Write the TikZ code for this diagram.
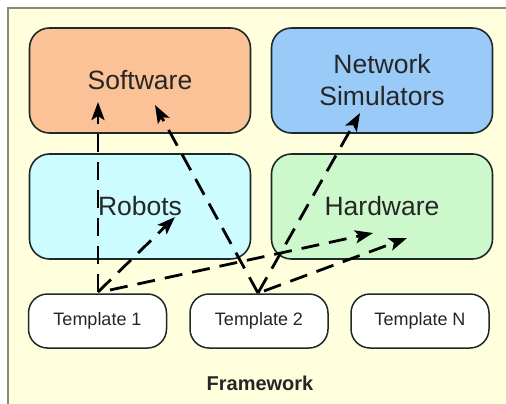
\documentclass[tikz,border=0pt]{standalone}
\usepackage{fontspec}
\setmainfont{Liberation Sans}
\usetikzlibrary{arrows.meta}
\definecolor{bgyellow}{HTML}{FFFFDD}
\definecolor{framegray}{HTML}{8A8A78}
\definecolor{swfill}{HTML}{FAC296}
\definecolor{nsfill}{HTML}{9ACBF8}
\definecolor{robfill}{HTML}{CCFCFF}
\definecolor{hwfill}{HTML}{CCF8CC}
\definecolor{edgedark}{HTML}{1E2A2A}
\definecolor{txtdark}{HTML}{262626}
\tikzset{
  bigbox/.style={draw=edgedark, line width=1.6pt, rounded corners=20pt,
    minimum width=221pt, minimum height=105pt, inner sep=0pt, align=center,
    text=txtdark, font=\fontsize{26.5}{32}\selectfont},
  tmplbox/.style={draw=edgedark, line width=1.5pt, rounded corners=19pt, fill=white,
    minimum width=138pt, minimum height=54pt, inner sep=0pt,
    text=txtdark, font=\fontsize{18}{20}\selectfont},
  link/.style={line width=2.8pt, dash pattern=on 18pt off 10pt,
    -{Stealth[length=18pt,width=13pt,inset=4pt]}}
}
\begin{document}
\begin{tikzpicture}[x=1pt,y=-1pt]
\useasboundingbox (0,0) rectangle (506,404);
\fill[white] (0,0) rectangle (506,404);
\fill[bgyellow] (8,8) rectangle (506,404);
\draw[framegray, line width=2pt] (8,404) -- (8,8) -- (506,8);

\node[bigbox, fill=swfill] (sw) at (140,80.5) {Software};
\node[bigbox, fill=nsfill] (ns) at (382,80.5) {Network\\Simulators};
\node[bigbox, fill=robfill] (rob) at (140,206.5) {Robots};
\node[bigbox, fill=hwfill] (hw) at (382,206.5) {Hardware};

\node[tmplbox] (t1) at (97.5,321) {Template 1};
\node[tmplbox] (t2) at (259,321) {Template 2};
\node[tmplbox] (tn) at (420,321) {Template N};

\node[font=\bfseries\fontsize{20}{22}\selectfont, text=txtdark] (fw) at (260,383) {Framework};

\coordinate (t1a) at (98,292);
\coordinate (t1b) at (110,290);
\coordinate (t2a) at (258,293);
\coordinate (t2b) at (264,291);
\coordinate (swa) at (98,102);
\coordinate (swb) at (155,105);
\coordinate (roba) at (175,217);
\coordinate (hwa) at (373,233);
\coordinate (hwb) at (407,238);
\coordinate (nsa) at (360,113);

\draw[link] (t1a) -- (swa);
\draw[link] (t1a) -- (roba);
\draw[link] (t1b) -- (hwa);
\draw[link] (t2a) -- (swb);
\draw[link] (t2a) -- (nsa);
\draw[link] (t2b) -- (hwb);
\end{tikzpicture}
\end{document}
